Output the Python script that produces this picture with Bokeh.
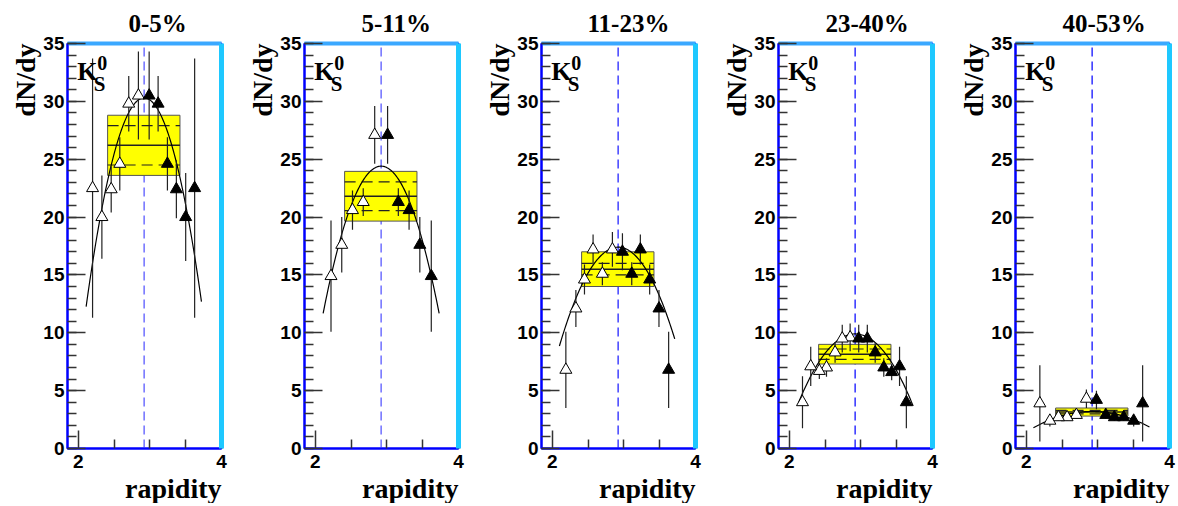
import numpy as np
from bokeh.plotting import figure
from bokeh.models import (Label, LinearAxis, FixedTicker, Title,
                          SingleIntervalTicker, Range1d)
from bokeh.layouts import row
from bokeh.embed import file_html
from bokeh.resources import INLINE

# ---------------- data ----------------
titles = ["0-5%", "5-11%", "11-23%", "23-40%", "40-53%"]
y_mid = 2.92  # mid-rapidity (dashed line)

# measured points (filled triangles)
filled_rap = [
    [2.99, 3.115, 3.245, 3.37, 3.50, 3.625],
    [3.01, 3.16, 3.31, 3.46, 3.62],
    [2.98, 3.11, 3.23, 3.36, 3.49, 3.625],
    [2.97, 3.09, 3.20, 3.32, 3.43, 3.54, 3.635],
    [2.98, 3.11, 3.23, 3.36, 3.50, 3.625],
]
filled_dndy = [
    [30.5, 29.8, 24.6, 22.4, 20.0, 22.5],
    [27.1, 21.3, 20.6, 17.6, 14.9],
    [17.0, 15.1, 17.2, 14.6, 12.1, 6.8],
    [9.5, 9.5, 8.3, 7.0, 6.6, 7.1, 4.0],
    [4.2, 2.9, 2.7, 2.7, 2.4, 3.9],
]
filled_err = [
    [3.8, 2.4, 2.3, 2.5, 3.8, 11.2],
    [2.5, 1.2, 1.7, 2.4, 4.8],
    [1.6, 1.0, 1.3, 1.3, 1.6, 3.3],
    [1.2, 1.2, 0.9, 0.8, 0.7, 1.7, 2.25],
    [0.8, 0.3, 0.3, 0.3, 0.5, 3.3],
]
# reflected points (open triangles)
open_rap = [
    [2.84, 2.705, 2.58, 2.46, 2.33, 2.20],
    [2.83, 2.67, 2.52, 2.37, 2.22],
    [2.84, 2.70, 2.57, 2.45, 2.33, 2.19],
    [2.85, 2.74, 2.64, 2.52, 2.42, 2.30, 2.185],
    [2.84, 2.70, 2.57, 2.45, 2.33, 2.19],
]
open_dndy = [
    [30.5, 29.8, 24.6, 22.4, 20.0, 22.5],
    [27.1, 21.3, 20.6, 17.6, 14.9],
    [17.2, 15.1, 17.2, 14.6, 12.1, 6.8],
    [9.6, 9.5, 8.3, 7.0, 6.7, 7.1, 4.0],
    [4.3, 2.9, 2.7, 2.7, 2.4, 3.9],
]
open_err = [
    [3.8, 2.4, 2.3, 2.0, 3.6, 11.2],
    [2.5, 1.2, 1.7, 2.4, 4.8],
    [1.5, 1.0, 1.3, 1.3, 1.6, 3.3],
    [1.2, 1.2, 0.9, 0.8, 0.7, 1.7, 2.25],
    [0.8, 0.3, 0.3, 0.3, 0.5, 3.3],
]
# fit curve parameters (parabola around mid-rapidity)
fit_peak = [30.3, 24.4, 17.4, 9.9, 3.2]
fit_curv = [27.5, 19.4, 12.7, 9.5, 2.1]
fit_lo = [2.11, 2.11, 2.10, 2.13, 2.10]
fit_hi = [3.72, 3.73, 3.71, 3.73, 3.72]
# mean dN/dy box: mean, stat error (dashed), syst error (box)
box_mean = [26.2, 21.8, 15.5, 8.15, 3.15]
box_stat = [1.7, 1.25, 0.5, 0.45, 0.15]
box_sys = [2.6, 2.15, 1.5, 0.85, 0.35]
box_rap = [2.41, 3.42]

x_ticks = [2, 4]
x_minor = [2.5, 3.0, 3.5]

# layout: title left edge relative to the frame (px)
title_offset = [61, 57, 46, 47, 47]
dash_colors = ["#6f6fff", "#6f6fff", "#4040ff", "#3030ff", "#3030ff"]

SERIF = "Liberation Serif"
SANS = "Liberation Sans"


def bare_axis(color, width):
    return LinearAxis(ticker=FixedTicker(ticks=[]), axis_line_color=color,
                      axis_line_width=width, major_tick_out=0, major_tick_in=0,
                      minor_tick_out=0, minor_tick_in=0,
                      major_label_standoff=0, major_label_text_font_size="0px")


figs = []
for i in range(5):
    p = figure(frame_width=154, frame_height=405, title=None,
               min_border_left=67, min_border_right=(16 if i < 4 else 7),
               min_border_top=42, min_border_bottom=51,
               x_range=Range1d(1.85, 4.0), y_range=Range1d(0, 35),
               output_backend="svg", toolbar_location=None)
    p.grid.visible = False
    p.outline_line_color = "#0000ff"
    p.outline_line_width = 2

    p.xaxis.ticker = FixedTicker(ticks=x_ticks, minor_ticks=x_minor)
    p.yaxis.ticker = SingleIntervalTicker(interval=5, num_minor_ticks=5)
    for ax in (p.xaxis[0], p.yaxis[0]):
        ax.major_tick_in = 18
        ax.major_tick_out = 0
        ax.minor_tick_in = 9
        ax.minor_tick_out = 0
        ax.major_tick_line_color = "#333333"
        ax.minor_tick_line_color = "#333333"
        ax.major_tick_line_width = 1.5
        ax.minor_tick_line_width = 1.5
        ax.axis_line_color = "#0000ff"
        ax.axis_line_width = 2
        ax.major_label_text_font = SANS
        ax.major_label_text_font_style = "bold"
        ax.major_label_text_font_size = "19px"
        ax.major_label_text_color = "black"
    p.xaxis.major_label_standoff = 6
    p.yaxis.major_label_standoff = 3

    # 3D frame look
    p.add_layout(bare_axis("#1ec8ff", 5), "right")
    p.add_layout(bare_axis("#3aa8ff", 4), "above")

    # texts outside the frame
    p.add_layout(Title(text=titles[i], align="left", offset=title_offset[i],
                       standoff=14, text_font=SERIF, text_font_style="bold",
                       text_font_size="25px", text_color="black"), "above")
    p.add_layout(Title(text="dN/dy", align="right", standoff=0,
                       text_font=SERIF, text_font_style="bold",
                       text_font_size="28px", text_color="black"), "left")
    p.add_layout(Title(text="rapidity", align="right", standoff=0,
                       text_font=SERIF, text_font_style="bold",
                       text_font_size="28px", text_color="black"), "below")

    # mid-rapidity dashed line
    p.segment(x0=[y_mid], y0=[0], x1=[y_mid], y1=[35], line_color=dash_colors[i],
              line_width=1.5, line_dash="9 5")

    # mean box
    m, st, sy = box_mean[i], box_stat[i], box_sys[i]
    p.quad(left=[box_rap[0]], right=[box_rap[1]], bottom=[m - sy], top=[m + sy],
           fill_color="#ffff00", line_color="#555555", line_width=1)
    p.segment(x0=[box_rap[0]], y0=[m], x1=[box_rap[1]], y1=[m],
              line_color="#222222", line_width=1.5)
    p.segment(x0=[box_rap[0]] * 2, y0=[m - st, m + st], x1=[box_rap[1]] * 2,
              y1=[m - st, m + st], line_color="#222222", line_width=1.2,
              line_dash="11 6")

    # fit curve
    xs = np.linspace(fit_lo[i], fit_hi[i], 120)
    ys = fit_peak[i] - fit_curv[i] * (xs - y_mid) ** 2
    p.line(xs, ys, line_color="black", line_width=1.2)

    # error bars
    for rap, val, err in ((open_rap[i], open_dndy[i], open_err[i]),
                          (filled_rap[i], filled_dndy[i], filled_err[i])):
        v = np.array(val); e = np.array(err)
        p.segment(x0=rap, y0=list(v - e), x1=rap, y1=list(v + e),
                  line_color="#222222", line_width=1.2)

    p.scatter(x=open_rap[i], y=open_dndy[i], marker="triangle", size=12,
              fill_color="white", line_color="black", line_width=1)
    p.scatter(x=filled_rap[i], y=filled_dndy[i], marker="triangle", size=12,
              fill_color="black", line_color="black", line_width=1)

    # K0s label
    p.add_layout(Label(x=1.985, y=32.58, text="K", text_align="left",
                       text_baseline="alphabetic", text_font=SERIF,
                       text_font_style="bold", text_font_size="26px",
                       text_color="black"))
    p.add_layout(Label(x=2.215, y=31.5, text="S", text_align="left",
                       text_baseline="alphabetic", text_font=SERIF,
                       text_font_style="bold", text_font_size="21px",
                       text_color="black"))
    p.add_layout(Label(x=2.265, y=33.3, text="0", text_align="left",
                       text_baseline="alphabetic", text_font=SERIF,
                       text_font_style="bold", text_font_size="20px",
                       text_color="black"))
    figs.append(p)

layout = row(*figs)
open("out.html", "w").write(file_html(layout, INLINE))
